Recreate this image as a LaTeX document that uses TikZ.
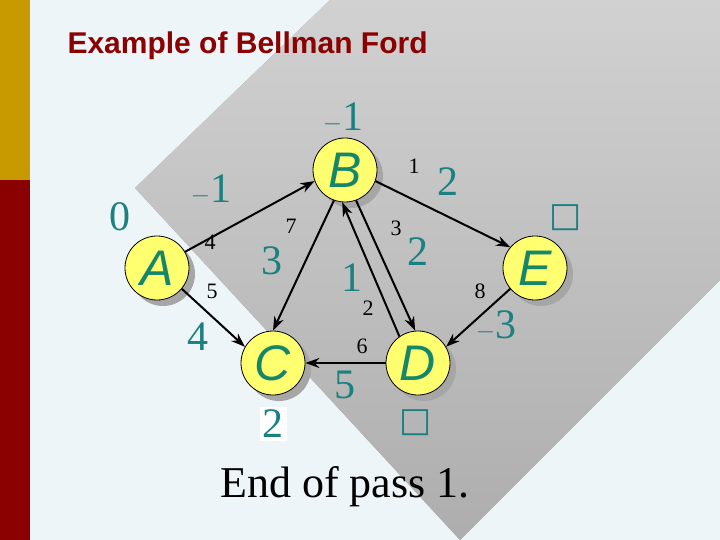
\documentclass[tikz,border=0pt]{standalone}
\usepackage{fontspec}
\setmainfont{Liberation Serif}
\setsansfont{Liberation Sans}
\newfontfamily\symfont{DejaVu Sans}
\usetikzlibrary{arrows.meta}
\definecolor{bar gold}{HTML}{C99A00}
\definecolor{bar red}{HTML}{8B0000}
\definecolor{teal num}{HTML}{1A8080}
\definecolor{node text}{HTML}{16866A}
\definecolor{node fill}{HTML}{FFFF70}
\definecolor{page}{HTML}{EEF5F8}
\tikzset{
  vertex/.style={circle, draw=black, thick, fill=node fill, minimum size=64pt, inner sep=0pt,
    font=\sffamily\itshape\fontsize{50}{50}\selectfont, text=node text},
  shade/.style={circle, fill=black!35, minimum size=64pt},
  wt/.style={font=\fontsize{22}{22}\selectfont, text=black},
  dist/.style={font=\fontsize{42}{42}\selectfont, text=teal num},
  edge/.style={-{Stealth[length=14pt,width=10pt]}, line width=2pt},
}
\begin{document}
\begin{tikzpicture}[x=1pt,y=-1pt]
    % background
    \fill[page] (0,0) rectangle (720,540);
    \shade[top color=black!18, bottom color=black!32] (135,188) -- (330,0) -- (720,0) -- (720,280) -- (460,540) -- cycle;
    \fill[bar gold] (0,0) rectangle (30,180);
    \fill[bar red] (0,180) rectangle (30,540);
    \node[anchor=west, text=bar red, font=\fontsize{30}{30}\selectfont\sffamily\bfseries] (title) at (64,46) {Example of Bellman Ford};
    % shadows
    \foreach \x/\y in {157/268, 345/170, 273/363, 418/363, 535/268}
        \node[shade] at (\x+6,\y+6) {};
    % vertices
    \node[vertex] (A) at (157,268) {A};
    \node[vertex] (B) at (345,170) {B};
    \node[vertex] (C) at (273,363) {C};
    \node[vertex] (D) at (418,363) {D};
    \node[vertex] (E) at (535,268) {E};
    % edges
    \draw[edge] (A.30) -- (B.200);
    \draw[edge] (A.-40) -- (C.150);
    \draw[edge] (B.250) -- (C.90);
    \draw[edge] (B.290) -- (D.95);
    \draw[edge] (D.125) -- (B.265);
    \draw[edge] (B.-20) -- (E.140);
    \draw[edge] (E.220) -- (D.30);
    \draw[edge] (D.180) -- (C.0);
    % weights
    \node[wt] (wAB) at (210,242) {4};
    \node[wt] (wAC) at (212,291) {5};
    \node[wt] (wBC) at (291,226) {7};
    \node[wt] (wBD) at (396,228) {3};
    \node[wt] (wDB) at (368,308) {2};
    \node[wt] (wBE) at (414,166) {1};
    \node[wt] (wED) at (480,291) {8};
    \node[wt] (wDC) at (362,346) {6};
    % distances
    \node[dist] (dB) at (343,118) {$-$1};
    \node[dist] (dA) at (120,217) {0};
    \node[dist] (d1) at (211,190) {$-$1};
    \node[dist] (d2) at (198,337) {4};
    \node[dist] (d3) at (272,261) {3};
    \node[dist] (d4) at (352,278) {1};
    \node[dist] (d5) at (418,252) {2};
    \node[dist] (d6) at (448,182) {2};
    \node[dist, font=\fontsize{34}{34}\symfont] (dE) at (566,218) {□};
    \node[dist] (d7) at (496,326) {$-$3};
    \node[dist] (d8) at (345,385) {5};
    \node[dist, fill=white, inner sep=3pt] (dC) at (273,424) {2};
    \node[dist, font=\fontsize{34}{34}\symfont] (dD) at (416,423) {□};
    \node[font=\fontsize{44}{44}\selectfont] (pass) at (345,487) {End of pass 1.};
\end{tikzpicture}
\end{document}
